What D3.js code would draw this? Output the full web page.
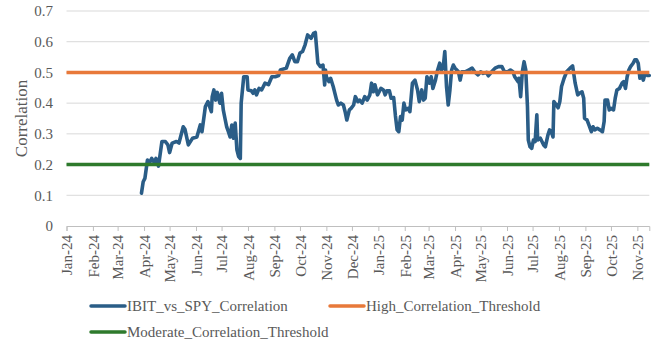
<!DOCTYPE html>
<html>
<head>
<meta charset="utf-8">
<script src="https://cdn.jsdelivr.net/npm/d3@7"></script>
<style>
  html, body { margin: 0; padding: 0; background: #fff; }
  svg { display: block; font-family: "Liberation Serif", "Times New Roman", serif; }
</style>
</head>
<body>
<svg id="chart" width="663" height="346"></svg>
<script>
// Rolling IBIT vs SPY correlation with two reference thresholds.
const obsDates = [
  "2024-03-29", "2024-03-31",
  "2024-04-02", "2024-04-05", "2024-04-07", "2024-04-10", "2024-04-13", "2024-04-15", "2024-04-18", "2024-04-22", "2024-04-26", "2024-04-29",
  "2024-05-01", "2024-05-04", "2024-05-09", "2024-05-12", "2024-05-17", "2024-05-19", "2024-05-23", "2024-05-28",
  "2024-06-02", "2024-06-06", "2024-06-08", "2024-06-12", "2024-06-15", "2024-06-19", "2024-06-20", "2024-06-22", "2024-06-24", "2024-06-26", "2024-06-29",
  "2024-07-01", "2024-07-03", "2024-07-05", "2024-07-07", "2024-07-09", "2024-07-11", "2024-07-13", "2024-07-15", "2024-07-17", "2024-07-19", "2024-07-21", "2024-07-23", "2024-07-24", "2024-07-27", "2024-07-31",
  "2024-08-01", "2024-08-05", "2024-08-07", "2024-08-09", "2024-08-11", "2024-08-14", "2024-08-17", "2024-08-21", "2024-08-25", "2024-08-29",
  "2024-09-02", "2024-09-06", "2024-09-08", "2024-09-15", "2024-09-19", "2024-09-22", "2024-09-25", "2024-09-28",
  "2024-10-01", "2024-10-04", "2024-10-07", "2024-10-10", "2024-10-14", "2024-10-17", "2024-10-19", "2024-10-22", "2024-10-25", "2024-10-28", "2024-10-30", "2024-10-31",
  "2024-11-01", "2024-11-04", "2024-11-06", "2024-11-09", "2024-11-13", "2024-11-15", "2024-11-18", "2024-11-21", "2024-11-23", "2024-11-25", "2024-11-28", "2024-11-30",
  "2024-12-03", "2024-12-05", "2024-12-08", "2024-12-10", "2024-12-13", "2024-12-16", "2024-12-19", "2024-12-22", "2024-12-24", "2024-12-26", "2024-12-28", "2024-12-31",
  "2025-01-04", "2025-01-07", "2025-01-09", "2025-01-11", "2025-01-14", "2025-01-16", "2025-01-19", "2025-01-21", "2025-01-23", "2025-01-25", "2025-01-27", "2025-01-29", "2025-01-31",
  "2025-02-02", "2025-02-05", "2025-02-07", "2025-02-10", "2025-02-13", "2025-02-16", "2025-02-18", "2025-02-21", "2025-02-23", "2025-02-25", "2025-02-27",
  "2025-03-02", "2025-03-04", "2025-03-06", "2025-03-09", "2025-03-11", "2025-03-14", "2025-03-16", "2025-03-18", "2025-03-20", "2025-03-22", "2025-03-24", "2025-03-26", "2025-03-28", "2025-03-30",
  "2025-04-01", "2025-04-03", "2025-04-05", "2025-04-07", "2025-04-09", "2025-04-13", "2025-04-17", "2025-04-21", "2025-04-24", "2025-04-28",
  "2025-05-01", "2025-05-04", "2025-05-08", "2025-05-10", "2025-05-14", "2025-05-18", "2025-05-22", "2025-05-26", "2025-05-29",
  "2025-06-02", "2025-06-05", "2025-06-08", "2025-06-10", "2025-06-14", "2025-06-15", "2025-06-17", "2025-06-19", "2025-06-21", "2025-06-23", "2025-06-25", "2025-06-26", "2025-06-28", "2025-06-30",
  "2025-07-02", "2025-07-04", "2025-07-06", "2025-07-07", "2025-07-10", "2025-07-12", "2025-07-14", "2025-07-16", "2025-07-19", "2025-07-21", "2025-07-23", "2025-07-25", "2025-07-26", "2025-07-29", "2025-07-31",
  "2025-08-02", "2025-08-04", "2025-08-07", "2025-08-10", "2025-08-14", "2025-08-17", "2025-08-20", "2025-08-23", "2025-08-25", "2025-08-28", "2025-08-30", "2025-08-31",
  "2025-09-03", "2025-09-06", "2025-09-08", "2025-09-10", "2025-09-12", "2025-09-15", "2025-09-18", "2025-09-21", "2025-09-23", "2025-09-24", "2025-09-27", "2025-09-29",
  "2025-10-01", "2025-10-04", "2025-10-06", "2025-10-08", "2025-10-11", "2025-10-14", "2025-10-16", "2025-10-18", "2025-10-20", "2025-10-22", "2025-10-24", "2025-10-27", "2025-10-29", "2025-10-31",
  "2025-11-02", "2025-11-04", "2025-11-06", "2025-11-08", "2025-11-10", "2025-11-13", "2025-11-15"
];

const ibitSpyCorr = [
  0.107, 0.144,
  0.155, 0.215, 0.204, 0.220, 0.207, 0.220, 0.195, 0.275, 0.275, 0.264,
  0.239, 0.270, 0.275, 0.270, 0.323, 0.315, 0.264, 0.286,
  0.290, 0.329, 0.307, 0.389, 0.405, 0.372, 0.421, 0.443, 0.410, 0.435, 0.400,
  0.432, 0.378, 0.350, 0.323, 0.307, 0.290, 0.329, 0.286, 0.335, 0.248, 0.226, 0.220, 0.400, 0.486, 0.486,
  0.443, 0.440, 0.432, 0.443, 0.427, 0.448, 0.443, 0.465, 0.460, 0.486,
  0.486, 0.490, 0.508, 0.514, 0.546, 0.557, 0.535, 0.535,
  0.563, 0.568, 0.590, 0.622, 0.611, 0.627, 0.630, 0.530, 0.519, 0.524, 0.459, 0.508,
  0.486, 0.470, 0.481, 0.454, 0.410, 0.394, 0.400, 0.394, 0.372, 0.345, 0.378, 0.383,
  0.394, 0.421, 0.405, 0.410, 0.400, 0.421, 0.410, 0.427, 0.465, 0.437, 0.460, 0.427,
  0.448, 0.443, 0.427, 0.440, 0.440, 0.416, 0.418, 0.360, 0.313, 0.307, 0.356, 0.345, 0.400,
  0.378, 0.383, 0.372, 0.465, 0.475, 0.443, 0.405, 0.443, 0.410, 0.416, 0.486,
  0.465, 0.486, 0.448, 0.475, 0.502, 0.530, 0.508, 0.514, 0.568, 0.454, 0.394, 0.443, 0.508, 0.524,
  0.514, 0.508, 0.502, 0.475, 0.502, 0.502, 0.508, 0.514, 0.502, 0.492,
  0.502, 0.497, 0.500, 0.489, 0.502, 0.514, 0.519, 0.519, 0.502,
  0.502, 0.508, 0.502, 0.486, 0.470, 0.481, 0.421, 0.502, 0.535, 0.508, 0.389, 0.280, 0.258, 0.253,
  0.280, 0.275, 0.362, 0.280, 0.286, 0.275, 0.264, 0.258, 0.296, 0.313, 0.307, 0.290, 0.405, 0.394, 0.385,
  0.405, 0.454, 0.481, 0.502, 0.514, 0.521, 0.465, 0.427, 0.432, 0.437, 0.416, 0.351,
  0.345, 0.323, 0.307, 0.323, 0.313, 0.318, 0.313, 0.307, 0.340, 0.410, 0.410, 0.378,
  0.383, 0.378, 0.416, 0.443, 0.448, 0.465, 0.470, 0.448, 0.486, 0.508, 0.519, 0.530, 0.541, 0.541,
  0.530, 0.481, 0.492, 0.475, 0.497, 0.490, 0.490
];

const highThreshold = 0.5;
const moderateThreshold = 0.2;

const monthLabels = [
  "Jan-24", "Feb-24", "Mar-24", "Apr-24", "May-24", "Jun-24", "Jul-24", "Aug-24", "Sep-24", "Oct-24", "Nov-24", "Dec-24",
  "Jan-25", "Feb-25", "Mar-25", "Apr-25", "May-25", "Jun-25", "Jul-25", "Aug-25", "Sep-25", "Oct-25", "Nov-25"
];
const yTicks = [0, 0.1, 0.2, 0.3, 0.4, 0.5, 0.6, 0.7];
const seriesNames = ["IBIT_vs_SPY_Correlation", "High_Correlation_Threshold", "Moderate_Correlation_Threshold"];

const colors = { corr: "#2a5d87", high: "#e8793a", moderate: "#2e7a2c" };
const textColor = "#595959";

const parseDay = d3.utcParse("%Y-%m-%d");
const parseMonth = d3.utcParse("%b-%y");

const data = obsDates.map((d, i) => ({ date: parseDay(d), v: ibitSpyCorr[i] }));
const monthDates = monthLabels.map(parseMonth);

const svg = d3.select("#chart");
const m = { l: 66.5, r: 649.3, t: 11, b: 226 };

const x = d3.scaleUtc()
  .domain([monthDates[0], data[data.length - 1].date])
  .range([m.l, m.r]);
const y = d3.scaleLinear().domain([0, 0.7]).range([m.b, m.t]);

// horizontal gridlines
svg.append("g")
  .selectAll("line").data(yTicks.filter(t => t > 0)).join("line")
  .attr("x1", m.l).attr("x2", m.r)
  .attr("y1", d => y(d)).attr("y2", d => y(d))
  .attr("stroke", "#d9d9d9").attr("stroke-width", 1);

// y axis labels
svg.append("g").attr("transform", `translate(${m.l},0)`)
  .call(d3.axisLeft(y).tickValues(yTicks).tickSize(0).tickPadding(13.5)
    .tickFormat(d => d === 0 ? "0" : d.toFixed(1)))
  .call(g => g.attr("font-family", null).attr("font-size", null))
  .call(g => g.select(".domain").remove())
  .selectAll("text")
  .attr("fill", textColor)
  .style("font-size", "15px");

svg.append("text")
  .attr("transform", `translate(21,${(m.t + m.b) / 2}) rotate(-90)`)
  .attr("text-anchor", "middle").attr("dy", "0.35em")
  .attr("fill", textColor).style("font-size", "17px")
  .text("Correlation");

// x axis with monthly ticks, labels turned vertical
svg.append("g").attr("transform", `translate(0,${m.b})`)
  .call(d3.axisBottom(x).tickValues(monthDates).tickSize(5).tickFormat((d, i) => monthLabels[i]))
  .call(g => g.attr("font-family", null).attr("font-size", null))
  .call(g => g.select(".domain").attr("stroke", "#bfbfbf"))
  .call(g => g.selectAll(".tick line").attr("stroke", "#bfbfbf"))
  .selectAll("text")
  .attr("transform", "rotate(-90)")
  .attr("text-anchor", "end")
  .attr("x", -9).attr("y", 0).attr("dy", "0.35em")
  .attr("fill", textColor)
  .style("font-size", "15px");

// correlation series
const line = d3.line().x(d => x(d.date)).y(d => y(d.v));
svg.append("path").datum(data)
  .attr("fill", "none").attr("stroke", colors.corr)
  .attr("stroke-width", 3.6)
  .attr("stroke-linejoin", "round").attr("stroke-linecap", "round")
  .attr("d", line);

// threshold lines over the full date range
const xDom = x.domain();
[[highThreshold, colors.high], [moderateThreshold, colors.moderate]].forEach(([v, c]) => {
  svg.append("line")
    .attr("x1", x(xDom[0])).attr("x2", x(xDom[1]))
    .attr("y1", y(v)).attr("y2", y(v))
    .attr("stroke", c).attr("stroke-width", 3.5);
});

// legend
const legendItems = [
  { name: seriesNames[0], color: colors.corr, lx: 91, ly: 306 },
  { name: seriesNames[1], color: colors.high, lx: 330, ly: 306 },
  { name: seriesNames[2], color: colors.moderate, lx: 91, ly: 332 }
];
const lg = svg.append("g").selectAll("g").data(legendItems).join("g")
  .attr("transform", d => `translate(${d.lx},${d.ly})`);
lg.append("line")
  .attr("x1", 0).attr("x2", 34).attr("y1", 0).attr("y2", 0)
  .attr("stroke", d => d.color).attr("stroke-width", 3.5).attr("stroke-linecap", "round");
lg.append("text")
  .attr("x", 36).attr("y", 0).attr("dy", "0.35em")
  .attr("fill", textColor).style("font-size", "15px")
  .text(d => d.name);
</script>
</body>
</html>
